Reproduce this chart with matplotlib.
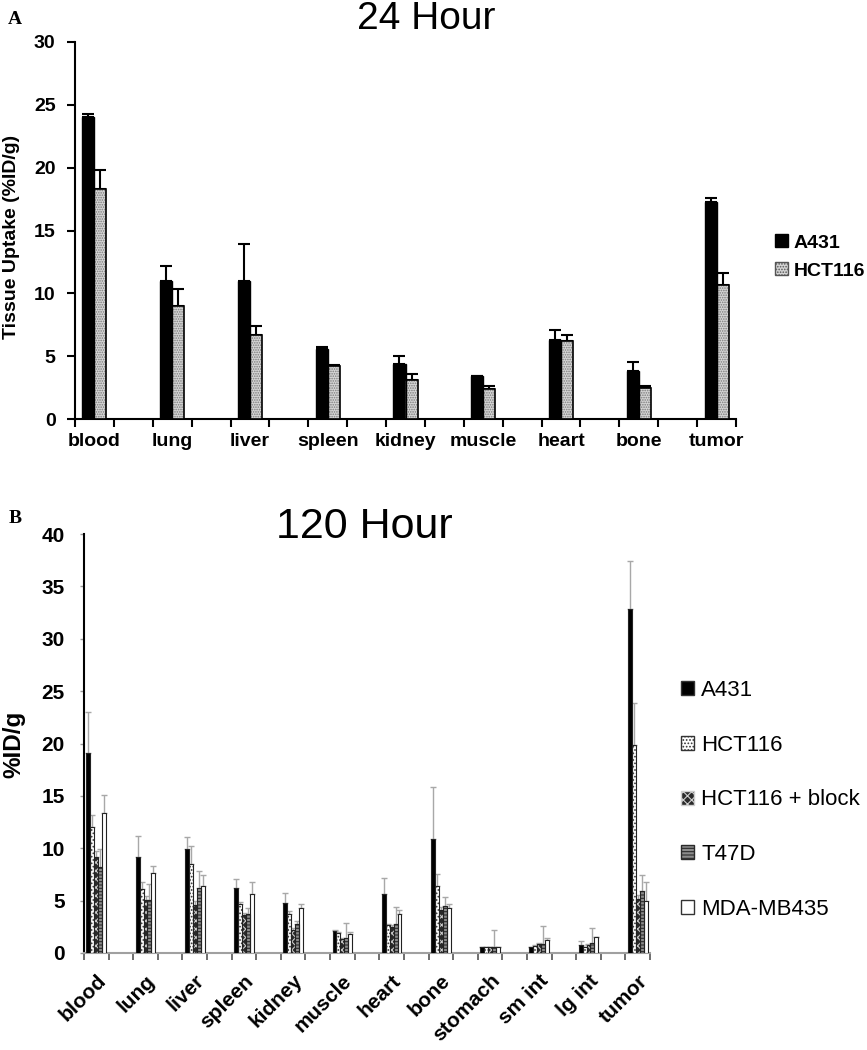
import matplotlib
matplotlib.use('Agg')
import matplotlib.pyplot as plt
import numpy as np
from matplotlib.patches import Patch

# ---------------- data ----------------
organs_a = ['blood', 'lung', 'liver', 'spleen', 'kidney', 'muscle', 'heart', 'bone', 'tumor']
a431_24 = [24.0, 11.0, 11.0, 5.6, 4.4, 3.4, 6.3, 3.8, 17.3]
a431_24_err = [0.3, 1.2, 2.9, 0.1, 0.6, 0.05, 0.8, 0.7, 0.25]
hct_24 = [18.3, 9.0, 6.7, 4.25, 3.1, 2.4, 6.2, 2.45, 10.7]
hct_24_err = [1.5, 1.35, 0.7, 0.05, 0.5, 0.25, 0.5, 0.15, 0.9]

organs_b = ['blood', 'lung', 'liver', 'spleen', 'kidney', 'muscle', 'heart', 'bone',
            'stomach', 'sm int', 'lg int', 'tumor']
a431_120 = [19.1, 9.2, 9.9, 6.2, 4.8, 2.1, 5.6, 10.9, 0.55, 0.6, 0.8, 32.8]
a431_120_err = [3.9, 2.0, 1.2, 0.9, 0.9, 0.1, 1.6, 4.9, 0.0, 0.0, 0.3, 4.6]
hct_120 = [12.0, 6.1, 8.5, 4.7, 3.7, 1.9, 2.7, 6.4, 0.6, 0.7, 0.6, 19.9]
hct_120_err = [1.2, 0.7, 1.7, 0.2, 0.3, 0.1, 0.1, 1.1, 0.0, 0.05, 0.0, 4.0]
blk_120 = [9.2, 5.1, 4.6, 3.65, 2.2, 1.35, 2.5, 4.1, 0.6, 0.9, 0.8, 5.2]
blk_120_err = [0.5, 0.3, 0.4, 0.2, 0.2, 0.1, 0.2, 0.3, 0.0, 0.1, 0.1, 0.3]
t47d_120 = [8.2, 5.1, 6.2, 3.7, 2.8, 1.45, 2.75, 4.5, 0.6, 0.9, 1.0, 5.9]
t47d_120_err = [1.7, 1.5, 1.6, 0.6, 0.3, 1.45, 1.65, 0.8, 1.6, 1.65, 1.4, 1.5]
mda_120 = [13.4, 7.6, 6.4, 5.6, 4.3, 1.8, 3.7, 4.3, 0.6, 1.25, 1.5, 5.0]
mda_120_err = [1.7, 0.7, 1.0, 1.2, 0.35, 0.2, 0.4, 0.4, 0.0, 0.15, 0.0, 1.8]

legend_a = ['A431', 'HCT116']
legend_b = ['A431', 'HCT116', 'HCT116 + block', 'T47D', 'MDA-MB435']

# ---------------- style ----------------
plt.rcParams['font.family'] = ['Liberation Sans', 'DejaVu Sans']
plt.rcParams['hatch.linewidth'] = 0.8

W, H = 867, 1050
fig = plt.figure(figsize=(W / 100, H / 100), dpi=100)


def hbar(ax, x, y, w, face, hatch, hcol, ecol, lw):
    ax.bar(x, y, w, color=face, edgecolor=hcol, hatch=hatch, linewidth=0, zorder=3)
    ax.bar(x, y, w, fill=False, edgecolor=ecol, linewidth=lw, zorder=4)


def up_err(ax, x, y, e, col, lw, cap):
    n = len(y)
    ax.errorbar(x, y, yerr=[np.zeros(n), e], fmt='none', ecolor=col,
                elinewidth=lw, capsize=cap, capthick=lw, zorder=2)


# ---------------- panel A ----------------
axA = fig.add_axes([75 / W, 1 - 419 / H, 661 / W, 377 / H])
xA = np.arange(len(organs_a)) * 2
wA = 0.31
hbar(axA, xA - wA / 2, a431_24, wA, 'black', None, 'black', 'black', 1.0)
hbar(axA, xA + wA / 2, hct_24, wA, '#d6d6d6', '.......', '#7a7a7a', 'black', 1.2)
up_err(axA, xA - wA / 2, a431_24, a431_24_err, 'black', 1.5, 4)
up_err(axA, xA + wA / 2, hct_24, hct_24_err, 'black', 1.5, 4)

axA.set_xlim(-0.5, 16.5)
axA.set_ylim(0, 30)
axA.set_xticks(np.arange(-0.5, 17, 1))
axA.set_xticklabels([])
axA.set_xticks(xA, minor=True)
axA.set_xticklabels(organs_a, minor=True, fontsize=14, fontweight='bold')
axA.tick_params(axis='x', which='minor', length=0, pad=10)
axA.tick_params(axis='x', which='major', direction='out', length=6, width=1.5)
axA.set_yticks(range(0, 31, 5))
axA.set_yticklabels([str(v) for v in range(0, 31, 5)], fontsize=14, fontweight='bold')
axA.tick_params(axis='y', direction='out', length=6, width=1.5, pad=8)
for s in ['top', 'right']:
    axA.spines[s].set_visible(False)
for s in ['left', 'bottom']:
    axA.spines[s].set_linewidth(1.5)

fig.text(12 / W, 1 - 237 / H, 'Tissue Uptake (%ID/g)', rotation=90, ha='center', va='center',
         fontsize=14, fontweight='bold')
fig.text(426 / W, 1 - 19 / H, '24 Hour', fontsize=28, ha='center', va='center')
fig.text(15 / W, 1 - 19 / H, 'A', family=['Liberation Serif', 'DejaVu Serif'], fontweight='bold',
         fontsize=14, ha='center', va='center')

hA = [Patch(facecolor='black', edgecolor='black'),
      Patch(facecolor='#d6d6d6', edgecolor='#555555', hatch='......')]
fig.legend(hA, legend_a, loc='center left', bbox_to_anchor=(775 / W, 1 - 257 / H),
           frameon=False, prop={'size': 14, 'weight': 'bold'}, handlelength=0.65,
           handleheight=0.65, handletextpad=0.3, labelspacing=0.55, borderpad=0,
           borderaxespad=0)

# ---------------- panel B ----------------
axB = fig.add_axes([84 / W, 1 - 953 / H, 566 / W, 419 / H])
xB = np.arange(len(organs_b)) * 2
wB = 0.16
series = [
    (a431_120, a431_120_err, 'black', None, 'black'),
    (hct_120, hct_120_err, 'white', '.....', '#333333'),
    (blk_120, blk_120_err, '#2a2a2a', 'xxxx', '#cfcfcf'),
    (t47d_120, t47d_120_err, '#8c8c8c', '-----', '#2a2a2a'),
    (mda_120, mda_120_err, 'white', None, 'white'),
]
for i, (vals, errs, face, hatch, hcol) in enumerate(series):
    xs = xB + (i - 2) * wB
    hbar(axB, xs, vals, wB, face, hatch, hcol, '#222222', 0.8)
    up_err(axB, xs, vals, errs, '#a8a8a8', 1.0, 2.5)

axB.set_xlim(-0.5, 22.5)
axB.set_ylim(0, 40)
axB.set_xticks(np.arange(-0.5, 23, 1))
axB.set_xticklabels([])
axB.set_xticks(xB, minor=True)
axB.set_xticklabels(organs_b, minor=True, fontsize=15, fontweight='bold', rotation=45,
                    ha='right', va='top', rotation_mode='anchor')
axB.tick_params(axis='x', which='minor', length=0, pad=13)
axB.tick_params(axis='x', which='major', direction='out', length=5, width=1.2, color='#555555')
axB.set_yticks(range(0, 41, 5))
axB.set_yticklabels([str(v) for v in range(0, 41, 5)], fontsize=15, fontweight='bold')
axB.tick_params(axis='y', direction='out', length=3, width=1.0, color='#999999', pad=11)
for s in ['top', 'right']:
    axB.spines[s].set_visible(False)
axB.spines['left'].set_linewidth(1.5)
axB.spines['bottom'].set_linewidth(1.5)
axB.spines['bottom'].set_color('#a0a0a0')

fig.text(14 / W, 1 - 744 / H, '%ID/g', rotation=90, ha='center', va='center',
         fontsize=17.5, fontweight='bold')
fig.text(364 / W, 1 - 527 / H, '120 Hour', fontsize=31, ha='center', va='center')
fig.text(15 / W, 1 - 518 / H, 'B', family=['Liberation Serif', 'DejaVu Serif'], fontweight='bold',
         fontsize=14, ha='center', va='center')

hB = [Patch(facecolor=f, edgecolor=('#333333' if h is None else hc), hatch=h)
      for (_, _, f, h, hc) in series]
fig.legend(hB, legend_b, loc='center left', bbox_to_anchor=(681 / W, 1 - 800 / H),
           frameon=False, prop={'size': 16}, handlelength=0.6, handleheight=0.6,
           handletextpad=0.3, labelspacing=1.52, borderpad=0, borderaxespad=0)

fig.savefig('out.png', dpi=100, facecolor='white')
